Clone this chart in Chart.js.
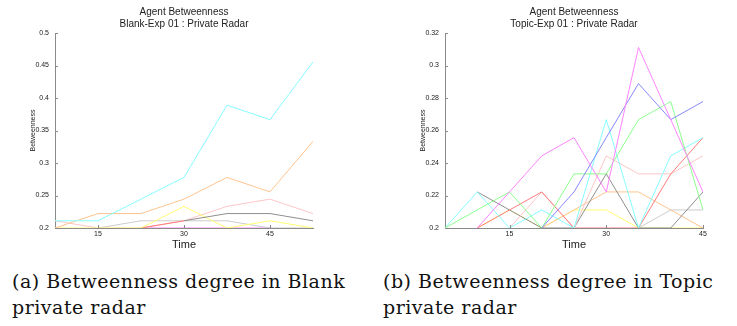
<!DOCTYPE html>
<html>
<head>
<meta charset="utf-8">
<script src="https://cdn.jsdelivr.net/npm/chart.js@4.4.0/dist/chart.umd.min.js"></script>
<style>
  body { margin: 0; background: #fff; width: 737px; height: 326px; overflow: hidden; position: relative; }
  canvas { position: absolute; top: 0; }
  #blankChart { left: 0; }
  #topicChart { left: 370px; }
  .caption {
    position: absolute; font-family: "DejaVu Serif", serif; font-size: 19px;
    letter-spacing: 0.5px; color: #111; line-height: 26px; white-space: nowrap;
  }
</style>
</head>
<body>
<canvas id="blankChart" width="370" height="255"></canvas>
<canvas id="topicChart" width="367" height="255"></canvas>
<div class="caption" style="left:12px; top:268px">(a) Betweenness degree in Blank<br>private radar</div>
<div class="caption" style="left:383px; top:268px">(b) Betweenness degree in Topic<br>private radar</div>
<script>
// Blank-Exp 01
const blankTimes = [7.5, 15, 22.5, 30, 37.5, 45, 52.5];
const blankCyan = [0.2111, 0.2111, 0.2444, 0.2778, 0.3889, 0.3667, 0.4556];
const blankOrange = [0.2, 0.2222, 0.2222, 0.2444, 0.2778, 0.2556, 0.3333];
const blankPink = [0.2111, 0.2, 0.2, 0.2111, 0.2333, 0.2444, 0.2222];
const blankYellow = [0.2, 0.2, 0.2, 0.2333, 0.2, 0.2111, 0.2];
const blankDarkGray = [null, null, null, 0.2111, 0.2222, 0.2222, 0.2111];
const blankLightGray = [null, 0.2, 0.2111, 0.2111, 0.2111, 0.2, 0.2];
const blankRed = [null, null, 0.2, 0.2111, null, null, null];
const blankMagenta = [null, null, 0.2, 0.2, 0.2, 0.2, null];

// Topic-Exp 01
const topicTimes = [5, 10, 15, 20, 25, 30, 35, 40, 45];
const topicMagenta = [null, 0.2, 0.2222, 0.2444, 0.2556, 0.2222, 0.3111, 0.2667, 0.2222];
const topicBlue = [null, null, null, 0.2, 0.2222, 0.2556, 0.2889, 0.2667, 0.2778];
const topicGreen = [0.2, 0.2111, 0.2222, 0.2, 0.2333, 0.2333, 0.2667, 0.2778, 0.2111];
const topicCyan = [0.2, 0.2222, 0.2, 0.2111, 0.2, 0.2667, 0.2, 0.2444, 0.2556];
const topicDarkGray = [null, 0.2222, 0.2111, 0.2, 0.2, 0.2333, 0.2, 0.2, 0.2222];
const topicRed = [null, 0.2, 0.2111, 0.2222, 0.2, 0.2, 0.2, 0.2333, 0.2556];
const topicPink = [null, null, 0.2, 0.2222, 0.2, 0.2444, 0.2333, 0.2333, 0.2444];
const topicOrange = [null, null, null, 0.2, 0.2111, 0.2222, 0.2222, 0.2111, 0.2];
const topicYellow = [null, 0.2, 0.2111, 0.2, 0.2111, 0.2111, 0.2, 0.2, 0.2];
const topicLightGray = [null, null, null, null, null, null, 0.2, 0.2111, 0.2111];

const xTicks = [15, 30, 45];

const colors = {
  cyan: "#86ffff", orange: "#ffc48e", pink: "#ffc6c6", yellow: "#ffff70",
  darkGray: "#8f8f8f", lightGray: "#cccccc", red: "#ff7c7c", magenta: "#ff84ff",
  green: "#8cff8c", blue: "#8888ff",
};
const axisColor = "#8a8a8a";
const textColor = "#222";
const sans = "'Liberation Sans', Arial, sans-serif";

function series(times, values, color) {
  return {
    data: times.map((t, i) => ({ x: t, y: values[i] })),
    borderColor: color,
    borderWidth: 1,
    pointRadius: 0,
    tension: 0,
    spanGaps: false,
  };
}

// MATLAB style: short tick marks pointing into the axes
const inwardTicks = {
  id: "inwardTicks",
  afterDraw(chart) {
    const { ctx, chartArea, scales } = chart;
    ctx.save();
    ctx.strokeStyle = axisColor;
    ctx.lineWidth = 1;
    ctx.beginPath();
    scales.x.ticks.forEach((t) => {
      const px = Math.round(scales.x.getPixelForValue(t.value)) + 0.5;
      ctx.moveTo(px, chartArea.bottom);
      ctx.lineTo(px, chartArea.bottom - 3);
    });
    scales.y.ticks.forEach((t) => {
      const py = Math.round(scales.y.getPixelForValue(t.value)) + 0.5;
      ctx.moveTo(chartArea.left, py);
      ctx.lineTo(chartArea.left + 3, py);
    });
    ctx.stroke();
    ctx.restore();
  },
};

// 0.30 -> "0.3", 0.25 -> "0.25"
const shortNumber = (v) => String(Number(v.toFixed(4)));

function drawChart(canvas, subtitle, datasets, xMin, xMax, yMax, yStep, yAxisWidth, yTitlePad, rightPad) {
  return new Chart(canvas, {
    type: "line",
    data: { datasets },
    plugins: [inwardTicks],
    options: {
      responsive: false,
      animation: false,
      layout: { padding: { left: 0, right: rightPad, top: 0, bottom: 0 } },
      plugins: {
        legend: { display: false },
        tooltip: { enabled: false },
        title: {
          display: true,
          fullSize: false,
          text: ["Agent Betweenness", subtitle],
          color: textColor,
          font: { family: sans, size: 10, weight: "normal", lineHeight: 1.2 },
          padding: { top: 6, bottom: 3 },
        },
      },
      scales: {
        x: {
          type: "linear",
          min: xMin,
          max: xMax,
          afterBuildTicks: (axis) => { axis.ticks = xTicks.map((v) => ({ value: v })); },
          afterFit: (axis) => { axis.height = 27; },
          grid: { display: false, drawTicks: false },
          border: { display: true, color: axisColor, width: 1 },
          ticks: { color: textColor, font: { family: sans, size: 7 }, padding: 2, maxRotation: 0 },
          title: {
            display: true, text: "Time", color: textColor,
            font: { family: sans, size: 11, lineHeight: 1.2 },
            padding: { top: 0, bottom: 3 },
          },
        },
        y: {
          min: 0.2,
          max: yMax,
          afterFit: (axis) => { axis.width = yAxisWidth; },
          grid: { display: false, drawTicks: false },
          border: { display: true, color: axisColor, width: 1 },
          ticks: {
            stepSize: yStep, color: textColor, font: { family: sans, size: 7 }, padding: 6,
            callback: (v) => shortNumber(v),
          },
          title: {
            display: true, text: "Betweenness", color: textColor,
            font: { family: sans, size: 7, lineHeight: 1.2 },
            padding: { top: yTitlePad, bottom: 0 },
          },
        },
      },
    },
  });
}

const blankSets = [
  series(blankTimes, blankCyan, colors.cyan),
  series(blankTimes, blankOrange, colors.orange),
  series(blankTimes, blankDarkGray, colors.darkGray),
  series(blankTimes, blankYellow, colors.yellow),
  series(blankTimes, blankRed, colors.red),
  series(blankTimes, blankPink, colors.pink),
  series(blankTimes, blankLightGray, colors.lightGray),
  series(blankTimes, blankMagenta, colors.magenta),
];

const topicSets = [
  series(topicTimes, topicMagenta, colors.magenta),
  series(topicTimes, topicBlue, colors.blue),
  series(topicTimes, topicGreen, colors.green),
  series(topicTimes, topicCyan, colors.cyan),
  series(topicTimes, topicRed, colors.red),
  series(topicTimes, topicPink, colors.pink),
  series(topicTimes, topicDarkGray, colors.darkGray),
  series(topicTimes, topicOrange, colors.orange),
  series(topicTimes, topicLightGray, colors.lightGray),
  series(topicTimes, topicYellow, colors.yellow),
];

drawChart(document.getElementById("blankChart"), "Blank-Exp 01 : Private Radar",
  blankSets, 7.5, 52.5, 0.5, 0.05, 55, 29, 57);
drawChart(document.getElementById("topicChart"), "Topic-Exp 01 : Private Radar",
  topicSets, 5, 45, 0.32, 0.02, 75, 49, 34);
</script>
</body>
</html>
